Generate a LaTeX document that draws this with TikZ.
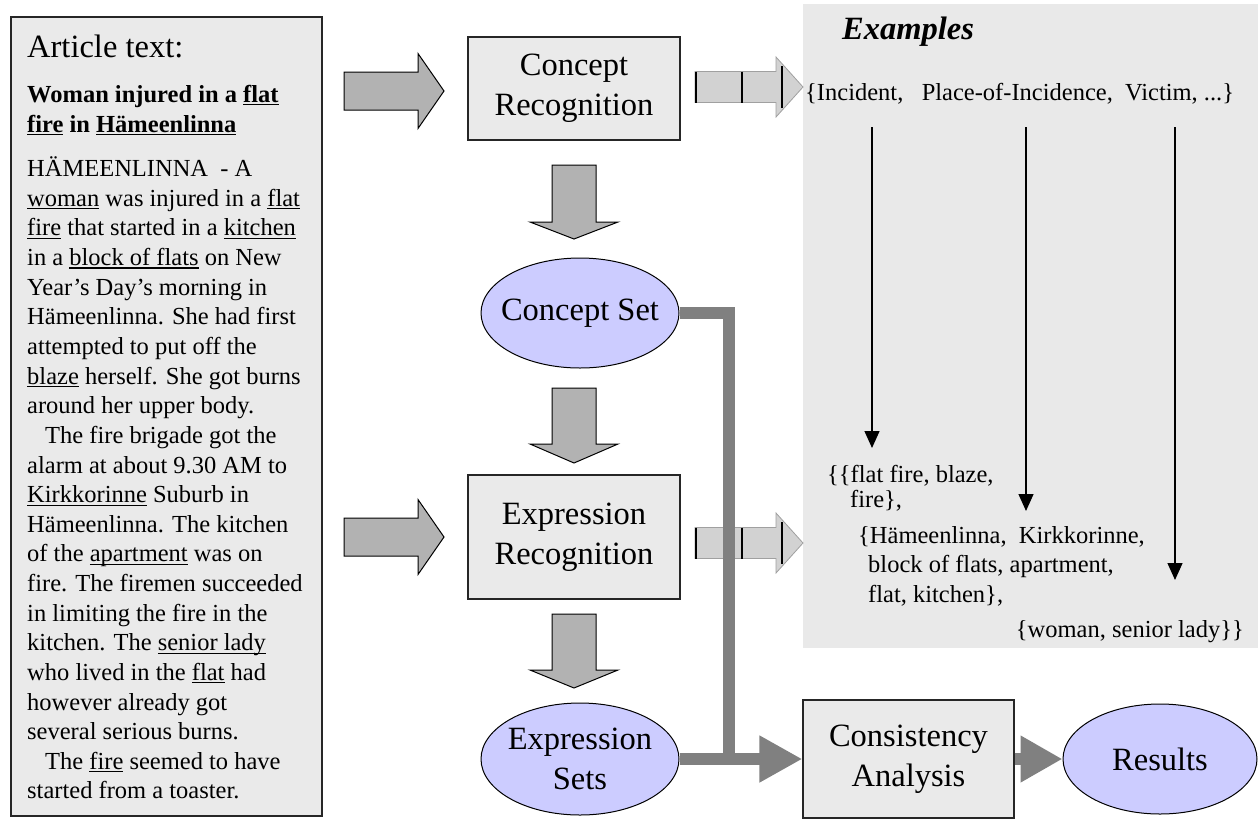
\documentclass[tikz,border=0pt]{standalone}
\usepackage{fontspec}
\setmainfont{Liberation Serif}
\usetikzlibrary{arrows.meta,shapes.geometric}
\definecolor{boxfill}{HTML}{EAEAEA}
\definecolor{panelfill}{HTML}{E9E9E9}
\definecolor{ellfill}{HTML}{CCCCFF}
\definecolor{blockgray}{HTML}{B2B2B2}
\definecolor{conngray}{HTML}{808080}
\definecolor{stripefill}{HTML}{D2D2D2}
\definecolor{stripeedge}{HTML}{A0A0A0}
\newsavebox\ulbox
\newcommand\ulw[1]{\sbox\ulbox{#1}\rlap{\rule[-3pt]{\wd\ulbox}{1.1pt}}\usebox\ulbox}
\newcommand\ulb[1]{\sbox\ulbox{#1}\rlap{\rule[-3.4pt]{\wd\ulbox}{1.7pt}}\usebox\ulbox}
\newcommand\bigfont{\fontsize{32.5}{40}\selectfont}
\newcommand\smallfont{\fontsize{24.5}{29.63}\selectfont}
\newcommand\downblock[4]{%
  \draw[blockarrow] (#1-22,#2) -- (#1+22,#2) -- (#1+22,#3) -- (#1+44,#3) -- (#1,#4) -- (#1-44,#3) -- (#1-22,#3) -- cycle;}
\newcommand\rightblock[1]{%
  \draw[blockarrow] (344,#1-19) -- (418,#1-19) -- (418,#1-37.5) -- (444,#1) -- (418,#1+37.5) -- (418,#1+19) -- (344,#1+19) -- cycle;}
\newcommand\stripearrow[1]{%
  \draw[stripefill, fill=stripefill, draw=stripeedge, line width=0.8pt] (695,#1-15.5) -- (776,#1-15.5) -- (776,#1-30) -- (803,#1) -- (776,#1+30) -- (776,#1+15.5) -- (695,#1+15.5) -- cycle;
  \draw[black, line width=1.2pt] (696,#1-15.5) -- (696,#1+15.5);
  \draw[black, line width=1.2pt] (742,#1-15.5) -- (742,#1+15.5);
  \draw[black, line width=1.2pt] (782,#1-21) -- (782,#1+21);}
\begin{document}
\begin{tikzpicture}[x=1pt,y=-1pt,
  procbox/.style={draw=black!85, line width=1.2pt, fill=boxfill, inner sep=0pt, align=center, font=\bigfont},
  setell/.style={ellipse, draw=black, line width=1pt, fill=ellfill, inner sep=0pt},
  elltext/.style={font=\bigfont, align=center, inner sep=0pt},
  plain/.style={inner sep=0pt, anchor=base west},
  blockarrow/.style={fill=blockgray, draw=black, line width=1pt, line join=miter},
  conn/.style={draw=conngray, line width=12pt, line join=miter},
  thinarrow/.style={draw=black, line width=1.3pt, -{Triangle[length=17pt,width=15pt]}}]
\useasboundingbox (0,0) rectangle (1258,820);
% examples panel
\fill[panelfill] (803,4) rectangle (1258,648);
% article box
\node[draw=black!85, line width=1.5pt, fill=boxfill, minimum width=311pt, minimum height=799pt, anchor=north west, inner sep=0pt] (art) at (10,16) {};
\node[plain, font=\bigfont] (title) at (27,57) {Article text:};
\node[plain, font=\smallfont\bfseries] (head) at (27,102) {\vtop{\baselineskip=30pt
  \hbox{Woman injured in a \ulb{flat}}
  \hbox{\ulb{fire} in \ulb{Hämeenlinna}}}};
\node[plain, font=\smallfont] (body) at (27,176.7) {\vtop{\baselineskip=29.63pt
  \hbox{HÄMEENLINNA\ \ - A}
  \hbox{\ulw{woman} was injured in a \ulw{flat}}
  \hbox{\ulw{fire} that started in a \ulw{kitchen}}
  \hbox{in a \ulw{block of flats} on New}
  \hbox{Year’s Day’s morning in}
  \hbox{Hämeenlinna. She had first}
  \hbox{attempted to put off the}
  \hbox{\ulw{blaze} herself. She got burns}
  \hbox{around her upper body.}
  \hbox{\hspace{18pt}The fire brigade got the}
  \hbox{alarm at about 9.30 AM to}
  \hbox{\ulw{Kirkkorinne} Suburb in}
  \hbox{Hämeenlinna. The kitchen}
  \hbox{of the \ulw{apartment} was on}
  \hbox{fire. The firemen succeeded}
  \hbox{in limiting the fire in the}
  \hbox{kitchen. The \ulw{senior lady}}
  \hbox{who lived in the \ulw{flat} had}
  \hbox{however already got}
  \hbox{several serious burns.}
  \hbox{\hspace{18pt}The \ulw{fire} seemed to have}
  \hbox{started from a toaster.}}};
% process nodes
\node[procbox, minimum width=212pt, minimum height=103pt] (cr) at (574,88.5) {Concept\\Recognition};
\node[setell, minimum width=198pt, minimum height=110pt, label={[elltext]center:Concept Set}] (cs) at (580,313) {};
\node[procbox, minimum width=212pt, minimum height=124pt] (er) at (574,537) {Expression\\Recognition};
\node[setell, minimum width=198pt, minimum height=112pt, label={[elltext]center:Expression\\Sets}] (es) at (580,759) {};
\node[procbox, minimum width=211pt, minimum height=118pt] (ca) at (908.5,759) {Consistency\\Analysis};
\node[setell, minimum width=194pt, minimum height=110pt, label={[elltext]center:Results}] (res) at (1160,759) {};
% block arrows
\rightblock{91}
\rightblock{537}
\downblock{574}{165}{222}{239}
\downblock{574}{388}{444}{463}
\downblock{574}{614}{670}{688}
\stripearrow{87}
\stripearrow{543}
% gray connectors
\coordinate (jn) at (729,765);
\draw[conn] (cs.east) -| (jn);
\draw[conn, -{Triangle[length=43pt,width=44pt]}] (es.east) -- (ca.west);
\draw[conn, -{Triangle[length=42pt,width=44pt]}] (ca.east) -- (res.west);
% examples text
\node[plain, font=\bigfont\bfseries\itshape] (ex) at (842,39) {Examples};
\node[plain, font=\smallfont] (cats) at (805,100) {\{Incident,\ \ \ Place-of-Incidence,\ \ Victim, ...\}};
\node[plain, font=\smallfont] (l1) at (827,482) {\{\{flat fire, blaze,};
\node[plain, font=\smallfont] (l2) at (850,507) {fire\},};
\node[plain, font=\smallfont] (l3) at (858,543) {\{Hämeenlinna,\ \ Kirkkorinne,};
\node[plain, font=\smallfont] (l4) at (868,572) {block of flats, apartment,};
\node[plain, font=\smallfont] (l5) at (868,602) {flat, kitchen\},};
\node[inner sep=0pt, anchor=base east, font=\smallfont] (l6) at (1244,637) {\{woman, senior lady\}\}};
\coordinate (v1s) at (872,127); \coordinate (v1e) at (872,448);
\coordinate (v2s) at (1026,127); \coordinate (v2e) at (1026,511);
\coordinate (v3s) at (1175,127); \coordinate (v3e) at (1175,580);
\draw[thinarrow] (v1s) -- (v1e);
\draw[thinarrow] (v2s) -- (v2e);
\draw[thinarrow] (v3s) -- (v3e);
\end{tikzpicture}
\end{document}
